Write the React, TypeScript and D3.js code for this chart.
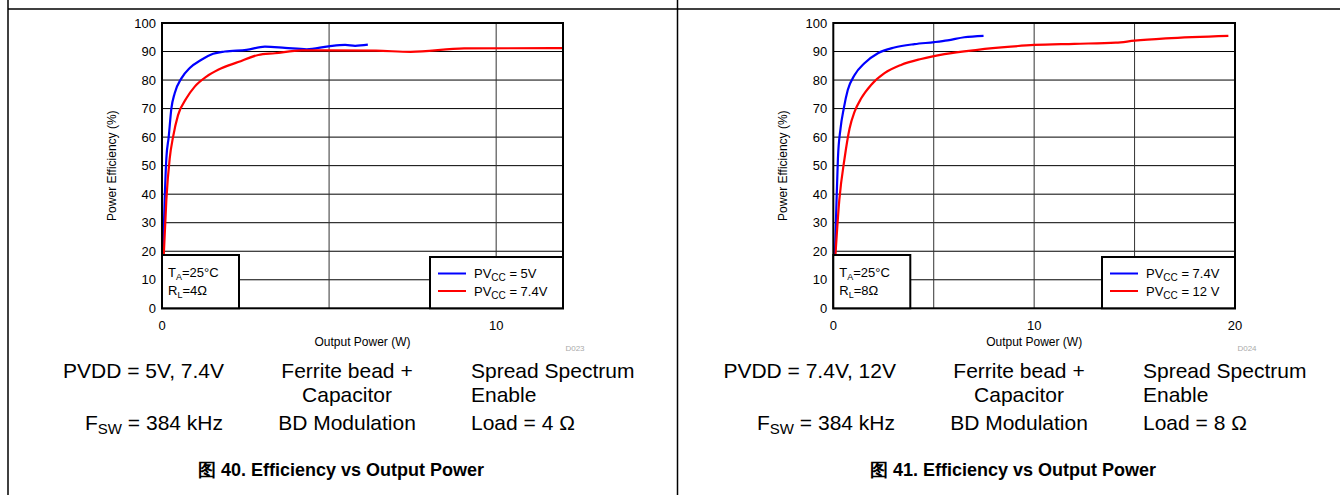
import React from 'react';
import * as d3 from 'd3';

// ---- Data (Output Power W, Efficiency %) ----
const fig40Blue: [number, number][] = [
  [0.03, 18], [0.08, 38], [0.13, 52.5], [0.2, 60], [0.28, 70], [0.38, 75.4], [0.58, 80.6],
  [0.83, 84.2], [1.18, 87.1], [1.53, 89.2], [1.88, 90], [2.53, 90.6], [3.08, 91.7],
  [3.68, 91.3], [4.33, 90.8], [4.98, 91.8], [5.48, 92.3], [5.78, 92.0], [6.16, 92.4],
];
const fig40Red: [number, number][] = [
  [0.05, 18], [0.13, 38], [0.23, 52.5], [0.33, 60], [0.48, 67.7], [0.73, 73.6], [0.98, 77.7],
  [1.33, 81.2], [1.68, 83.6], [2.28, 86.3], [2.88, 88.8], [3.38, 89.4], [4.18, 90.4],
  [4.88, 90.4], [6.4, 90.3], [7.44, 89.9], [9.04, 91.1], [12.0, 91.2],
];
const fig41Blue: [number, number][] = [
  [0.08, 18], [0.15, 35], [0.23, 52.5], [0.36, 63], [0.52, 70], [0.72, 76.5], [1.06, 81.8],
  [1.55, 85.9], [2.22, 89.4], [3.04, 91.4], [4.04, 92.6], [5.03, 93.3], [5.69, 93.9],
  [6.52, 95.0], [7.48, 95.5],
];
const fig41Red: [number, number][] = [
  [0.1, 18], [0.3, 38], [0.56, 52.5], [0.81, 63], [1.06, 68.9], [1.39, 73.6], [1.88, 78.3],
  [2.55, 82.4], [3.37, 85.3], [4.37, 87.4], [5.53, 89.1], [7.18, 90.6], [8.84, 91.7],
  [10.0, 92.3], [12.0, 92.7], [14.07, 93.1], [15.0, 93.8], [16.56, 94.6], [19.67, 95.5],
];

const yTicks = [0, 10, 20, 30, 40, 50, 60, 70, 80, 90, 100];
const fig40XGrid = [5, 10];
const fig40XLabels = [0, 10];
const fig41XGrid = [5, 10, 15];
const fig41XLabels = [0, 10, 20];

const FONT = "Arial, 'Liberation Sans', Helvetica, sans-serif";
const BLUE = '#0000ff';
const RED = '#ff0000';

type PanelProps = {
  left: number;
  right: number;
  xMax: number;
  xGrid: number[];
  xLabels: number[];
  blue: [number, number][];
  red: [number, number][];
  blueLabel: string;
  redLabel: string;
  rl: string;
  code: string;
  pvdd: string;
  load: string;
  caption: string;
  off: number;
};

const TOP = 23;
const BOTTOM = 308.3;

function Panel(p: PanelProps) {
  const x = d3.scaleLinear().domain([0, p.xMax]).range([p.left, p.right]);
  const y = d3.scaleLinear().domain([0, 100]).range([BOTTOM, TOP]);
  const line = d3
    .line<[number, number]>()
    .x((d) => x(d[0]))
    .y((d) => y(d[1]))
    .curve(d3.curveMonotoneX);
  const cx = (p.left + p.right) / 2;
  const legX = p.right - 133;
  const legY = 257;
  const annX = p.left;
  const annW = 77;
  const o = p.off;
  return (
    <g fontFamily={FONT}>
      {/* grid */}
      {yTicks.slice(1, -1).map((t) => (
        <line key={'h' + t} x1={p.left} x2={p.right} y1={y(t)} y2={y(t)} stroke="#000" strokeWidth={1} />
      ))}
      {p.xGrid.map((t) => (
        <line key={'v' + t} x1={x(t)} x2={x(t)} y1={TOP} y2={BOTTOM} stroke="#333" strokeWidth={1} />
      ))}
      {/* curves */}
      <path d={line(p.blue) || ''} fill="none" stroke={BLUE} strokeWidth={2.2} />
      <path d={line(p.red) || ''} fill="none" stroke={RED} strokeWidth={2.2} />
      {/* frame */}
      <rect x={p.left} y={TOP} width={p.right - p.left} height={BOTTOM - TOP} fill="none" stroke="#000" strokeWidth={2} />
      {/* y tick labels */}
      {yTicks.map((t) => (
        <text key={'yl' + t} x={p.left - 6} y={y(t) + 4.5} fontSize={13} textAnchor="end" fill="#000">
          {t}
        </text>
      ))}
      {/* x tick labels */}
      {p.xLabels.map((t) => (
        <text key={'xl' + t} x={x(t)} y={330} fontSize={13} textAnchor="middle" fill="#000">
          {t}
        </text>
      ))}
      <text x={cx} y={346} fontSize={12} textAnchor="middle">Output Power (W)</text>
      <text
        transform={`translate(${p.left - 46},${(TOP + BOTTOM) / 2}) rotate(-90)`}
        fontSize={12}
        textAnchor="middle"
      >
        Power Efficiency (%)
      </text>
      <text x={p.right + 12} y={351} fontSize={8} fill="#aaa" textAnchor="middle">{p.code}</text>
      {/* annotation box */}
      <rect x={annX} y={255} width={annW} height={BOTTOM - 255} fill="#fff" stroke="#000" strokeWidth={2} />
      <text x={annX + 6} y={277} fontSize={13}>
        T<tspan fontSize={9} dy={3}>A</tspan>
        <tspan dy={-3}>=25°C</tspan>
      </text>
      <text x={annX + 6} y={295} fontSize={13}>
        R<tspan fontSize={9} dy={3}>L</tspan>
        <tspan dy={-3}>{p.rl}</tspan>
      </text>
      {/* legend */}
      <rect x={legX} y={legY} width={p.right - legX} height={BOTTOM - legY} fill="#fff" stroke="#000" strokeWidth={2} />
      <line x1={legX + 8} x2={legX + 36} y1={273.5} y2={273.5} stroke={BLUE} strokeWidth={2} />
      <line x1={legX + 8} x2={legX + 36} y1={291} y2={291} stroke={RED} strokeWidth={2} />
      <text x={legX + 44} y={278} fontSize={13}>
        PV<tspan fontSize={10} dy={3}>CC</tspan>
        <tspan dy={-3}>{' = ' + p.blueLabel}</tspan>
      </text>
      <text x={legX + 44} y={295.5} fontSize={13}>
        PV<tspan fontSize={10} dy={3}>CC</tspan>
        <tspan dy={-3}>{' = ' + p.redLabel}</tspan>
      </text>
      {/* conditions text */}
      <text x={224 + o} y={378} fontSize={21} textAnchor="end">{p.pvdd}</text>
      <text x={223 + o} y={430} fontSize={21} textAnchor="end">
        F<tspan fontSize={15} dy={4}>SW</tspan>
        <tspan dy={-4}> = 384 kHz</tspan>
      </text>
      <text x={347 + o} y={378} fontSize={21} textAnchor="middle">Ferrite bead +</text>
      <text x={347 + o} y={402} fontSize={21} textAnchor="middle">Capacitor</text>
      <text x={347 + o} y={430} fontSize={21} textAnchor="middle">BD Modulation</text>
      <text x={471 + o} y={378} fontSize={21}>Spread Spectrum</text>
      <text x={471 + o} y={402} fontSize={21}>Enable</text>
      <text x={471 + o} y={430} fontSize={21}>{p.load}</text>
      <text x={341 + o} y={476} fontSize={18} fontWeight="bold" textAnchor="middle">
        {p.caption}
      </text>
    </g>
  );
}

export default function App() {
  return (
    <svg
      width={1340}
      height={495}
      style={{ position: 'absolute', left: 0, top: 0, background: '#fff' }}
    >
      <rect x={0} y={0} width={1340} height={495} fill="#fff" />
      {/* table borders */}
      <line x1={8} x2={1340} y1={9} y2={9} stroke="#000" strokeWidth={1.5} />
      <line x1={8} x2={8} y1={0} y2={495} stroke="#000" strokeWidth={1.5} />
      <line x1={677.5} x2={677.5} y1={0} y2={495} stroke="#000" strokeWidth={1.5} />
      <Panel
        left={162}
        right={563}
        xMax={12}
        xGrid={fig40XGrid}
        xLabels={fig40XLabels}
        blue={fig40Blue}
        red={fig40Red}
        blueLabel="5V"
        redLabel="7.4V"
        rl="=4Ω"
        code="D023"
        pvdd="PVDD = 5V, 7.4V"
        load="Load = 4 Ω"
        caption="图 40. Efficiency vs Output Power"
        off={0}
      />
      <Panel
        left={833.3}
        right={1235}
        xMax={20}
        xGrid={fig41XGrid}
        xLabels={fig41XLabels}
        blue={fig41Blue}
        red={fig41Red}
        blueLabel="7.4V"
        redLabel="12 V"
        rl="=8Ω"
        code="D024"
        pvdd="PVDD = 7.4V, 12V"
        load="Load = 8 Ω"
        caption="图 41. Efficiency vs Output Power"
        off={672}
      />
    </svg>
  );
}
